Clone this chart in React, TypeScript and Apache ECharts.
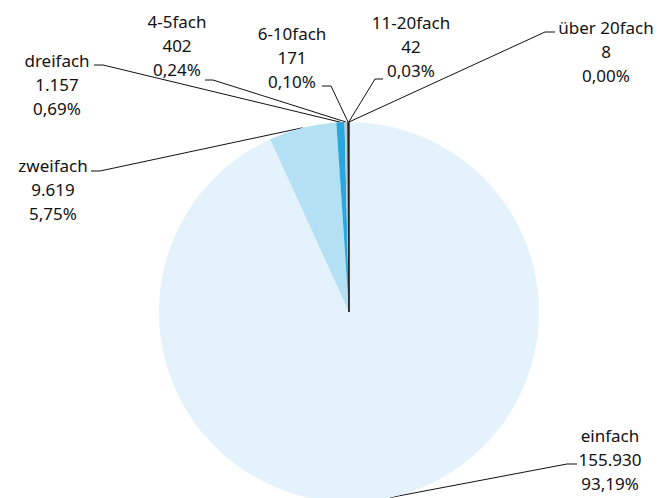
import React, { useEffect, useRef } from 'react';
import * as echarts from 'echarts';

// ---- data ----
const categories = ['einfach', 'zweifach', 'dreifach', '4-5fach', '6-10fach', '11-20fach', 'über 20fach'];
const counts = [155930, 9619, 1157, 402, 171, 42, 8];

// ---- styles / layout ----
const sliceColors = ['#e4f3fb', '#b3e1f3', '#29a8df', '#c8c8c8', '#3a3a3a', '#2a2a2a', '#1a1a1a'];
const sliceBorders = [0, 0, 0, 0, 0.6, 0.6, 0.6];
// label block centers (x, y of middle line)
const labelCenters: number[][] = [
  [610, 459], [53, 189], [57, 84], [177, 45], [292, 57], [411, 46], [606, 51],
];
// leader elbow: [point near pie, point near text]
const elbows: number[][][] = [
  [[567, 464], [577, 464]],
  [[100, 171], [91, 171]],
  [[103, 65], [94, 65]],
  [[213, 80], [205, 80]],
  [[331, 86], [322, 86]],
  [[375, 79], [383, 79]],
  [[545, 32], [555, 32]],
];

const CX = 349;
const CY = 312;
const R = 190;

function fmtInt(n: number): string {
  return String(n).replace(/\B(?=(\d{3})+(?!\d))/g, '.');
}
function fmtPct(p: number): string {
  return p.toFixed(2).replace('.', ',') + '%';
}

export default function App() {
  const ref = useRef<HTMLDivElement>(null);
  useEffect(() => {
    if (!ref.current) return;
    const chart = echarts.init(ref.current, undefined, { renderer: 'svg' });
    const total = counts.reduce((a, b) => a + b, 0);
    // mid-angle edge points as fallback
    const edgePoints: number[][] = [];
    let acc = 0;
    counts.forEach((v) => {
      const mid = ((acc + v / 2) / total) * Math.PI * 2;
      edgePoints.push([CX + R * Math.sin(mid), CY - R * Math.cos(mid)]);
      acc += v;
    });
    chart.setOption({
      animation: false,
      series: [
        {
          type: 'pie',
          center: [CX, CY],
          radius: R,
          startAngle: 90,
          clockwise: true,
          avoidLabelOverlap: false,
          emphasis: { disabled: true },
          data: categories.map((name, i) => ({
            name,
            value: counts[i],
            itemStyle: {
              color: sliceColors[i],
              borderColor: sliceColors[i],
              borderWidth: sliceBorders[i],
            },
          })),
          label: {
            show: true,
            position: 'outside',
            formatter: (p: any) => `${p.name}\n${fmtInt(p.value)}\n${fmtPct(p.percent)}`,
            color: '#111',
            fontFamily: 'Noto Sans',
            fontSize: 17,
            lineHeight: 24,
            align: 'center',
          },
          labelLine: {
            show: true,
            length: 10,
            length2: 10,
            lineStyle: { color: '#111', width: 1 },
          },
          labelLayout: (params: any) => {
            const i = params.dataIndex;
            const start =
              params.labelLinePoints && params.labelLinePoints[0]
                ? params.labelLinePoints[0]
                : edgePoints[i];
            return {
              x: labelCenters[i][0],
              y: labelCenters[i][1],
              align: 'center',
              verticalAlign: 'middle',
              labelLinePoints: [start, elbows[i][0], elbows[i][1]],
            };
          },
        },
      ],
    });
    return () => chart.dispose();
  }, []);
  return (
    <div
      ref={ref}
      style={{ position: 'fixed', left: 0, top: 0, width: 659, height: 498, background: '#fff' }}
    />
  );
}
